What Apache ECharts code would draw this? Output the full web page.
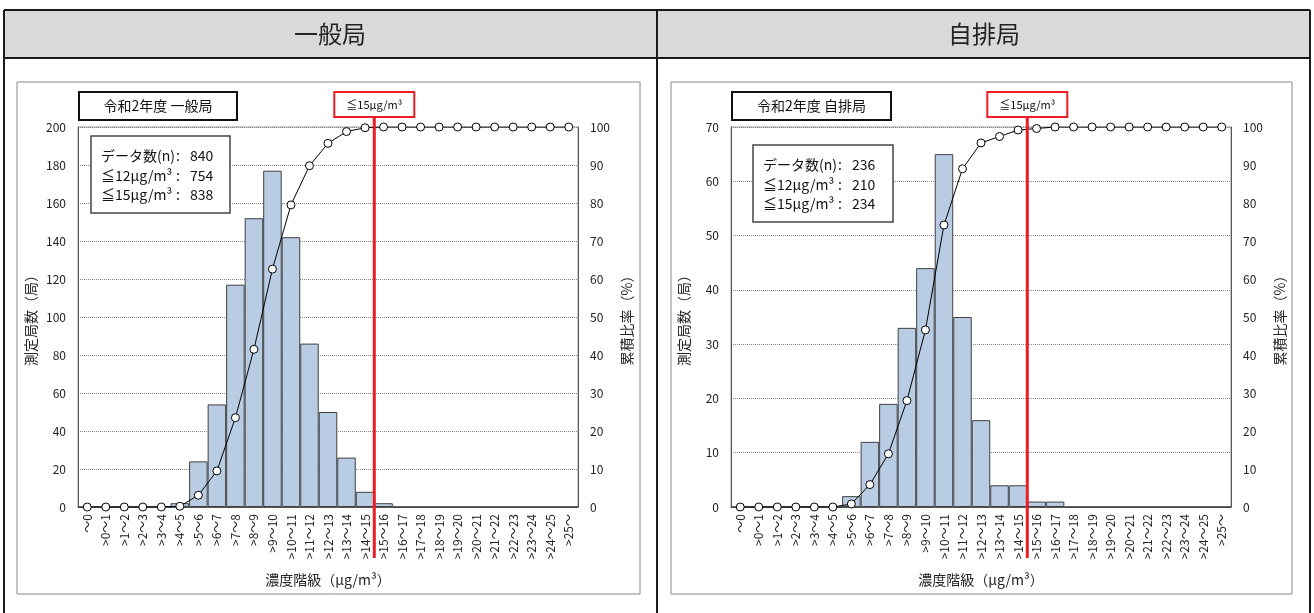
<!DOCTYPE html>
<html>
<head>
<meta charset="utf-8">
<script src="https://cdn.jsdelivr.net/npm/echarts@6/dist/echarts.min.js"></script>
<style>
  html, body { margin: 0; padding: 0; background: #fff; }
  #main { width: 1314px; height: 613px; }
</style>
</head>
<body>
<div id="main"></div>
<script>
// 濃度階級
const categories = ['～0', '>0～1', '>1～2', '>2～3', '>3～4', '>4～5', '>5～6', '>6～7', '>7～8', '>8～9',
  '>9～10', '>10～11', '>11～12', '>12～13', '>13～14', '>14～15', '>15～16', '>16～17', '>17～18',
  '>18～19', '>19～20', '>20～21', '>21～22', '>22～23', '>23～24', '>24～25', '>25～'];

// 一般局
const ippanCounts = [0, 0, 0, 0, 0, 2, 24, 54, 117, 152, 177, 142, 86, 50, 26, 8, 2, 0, 0, 0, 0, 0, 0, 0, 0, 0, 0];
const ippanCumPct = [0, 0, 0, 0, 0, 0.2, 3.1, 9.5, 23.5, 41.5, 62.6, 79.5, 89.8, 95.7, 98.8, 99.8, 100, 100, 100, 100, 100, 100, 100, 100, 100, 100, 100];
const ippanStats = [['データ数(n)', '840'], ['≦12μg/m³', '754'], ['≦15μg/m³', '838']];

// 自排局
const jihaiCounts = [0, 0, 0, 0, 0, 0, 2, 12, 19, 33, 44, 65, 35, 16, 4, 4, 1, 1, 0, 0, 0, 0, 0, 0, 0, 0, 0];
const jihaiCumPct = [0, 0, 0, 0, 0, 0, 0.8, 5.9, 14.0, 28.0, 46.6, 74.2, 89.0, 95.8, 97.5, 99.2, 99.6, 100, 100, 100, 100, 100, 100, 100, 100, 100, 100];
const jihaiStats = [['データ数(n)', '236'], ['≦12μg/m³', '210'], ['≦15μg/m³', '234']];

const countAxisMax = [200, 70];
const countAxisStep = [20, 10];
const pctAxisMax = 100;
const pctAxisStep = 10;
const limitIndex = 15; // 線は >14～15 と >15～16 の境目

const FONT = '"Noto Sans CJK JP", "Noto Sans", sans-serif';
const chart = echarts.init(document.getElementById('main'));

const gridLefts = [78, 731];
const grids = gridLefts.map(l => ({
  left: l, top: 127, width: 500, height: 380,
  show: true, borderColor: '#999', borderWidth: 1
}));

const xAxes = [0, 1].map(i => ({
  type: 'category', gridIndex: i, data: categories,
  name: '濃度階級（μg/m³）', nameLocation: 'middle', nameGap: 66,
  nameTextStyle: { fontSize: 14, color: '#222', fontFamily: FONT },
  axisLine: { lineStyle: { color: '#555' } },
  axisTick: { show: false },
  axisLabel: { rotate: 90, interval: 0, fontSize: 12, color: '#222', margin: 7, fontFamily: FONT }
}));

const yAxes = [];
[0, 1].forEach(i => {
  yAxes.push({
    type: 'value', gridIndex: i, position: 'left',
    min: 0, max: countAxisMax[i], interval: countAxisStep[i],
    name: '測定局数（局）', nameLocation: 'middle', nameGap: 40, nameRotate: 90,
    nameTextStyle: { fontSize: 14, color: '#222', fontFamily: FONT },
    axisLine: { show: true, lineStyle: { color: '#555' } },
    axisTick: { show: false },
    axisLabel: { fontSize: 12, color: '#222', margin: 12, fontFamily: FONT },
    splitLine: { lineStyle: { type: 'dotted', color: '#888' } }
  });
  yAxes.push({
    type: 'value', gridIndex: i, position: 'right',
    min: 0, max: pctAxisMax, interval: pctAxisStep,
    name: '累積比率（%）', nameLocation: 'middle', nameGap: 42, nameRotate: 90,
    nameTextStyle: { fontSize: 14, color: '#222', fontFamily: FONT },
    axisLine: { show: true, lineStyle: { color: '#555' } },
    axisTick: { show: false },
    axisLabel: { fontSize: 12, color: '#222', margin: 12, fontFamily: FONT },
    splitLine: { show: false }
  });
});

const counts = [ippanCounts, jihaiCounts];
const cum = [ippanCumPct, jihaiCumPct];
const series = [];
[0, 1].forEach(i => {
  series.push({
    type: 'bar', xAxisIndex: i, yAxisIndex: 2 * i, data: counts[i],
    barWidth: '100%',
    itemStyle: { color: '#b8cce4', borderColor: '#404040', borderWidth: 1 },
    z: 2
  });
  series.push({
    type: 'line', xAxisIndex: i, yAxisIndex: 2 * i + 1, data: cum[i],
    symbol: 'circle', symbolSize: 8,
    lineStyle: { color: '#000', width: 1 },
    itemStyle: { color: '#fff', borderColor: '#000', borderWidth: 1 },
    z: 3
  });
});

chart.setOption({
  animation: false,
  textStyle: { fontFamily: FONT },
  grid: grids, xAxis: xAxes, yAxis: yAxes, series: series
});

// 枠・注記
const g = [];
// 表の見出し
g.push({ type: 'rect', shape: { x: 4, y: 10, width: 653, height: 48 }, style: { fill: '#d9d9d9' }, z: -1 });
g.push({ type: 'rect', shape: { x: 657, y: 10, width: 653, height: 48 }, style: { fill: '#d9d9d9' }, z: -1 });
[[4, 10, 1310, 10], [4, 58, 1310, 58], [4, 10, 4, 613], [657, 10, 657, 613], [1310, 10, 1310, 613]].forEach(l => {
  g.push({ type: 'line', shape: { x1: l[0], y1: l[1], x2: l[2], y2: l[3] }, style: { stroke: '#1a1a1a', lineWidth: 2 } });
});
g.push({ type: 'text', x: 330, y: 34, style: { text: '一般局', font: '24px ' + FONT, fill: '#222', align: 'center', verticalAlign: 'middle' } });
g.push({ type: 'text', x: 984, y: 34, style: { text: '自排局', font: '24px ' + FONT, fill: '#222', align: 'center', verticalAlign: 'middle' } });

// グラフ枠
g.push({ type: 'rect', shape: { x: 17, y: 82, width: 623, height: 512 }, style: { fill: 'none', stroke: '#888', lineWidth: 1 } });
g.push({ type: 'rect', shape: { x: 671, y: 82, width: 621, height: 512 }, style: { fill: 'none', stroke: '#888', lineWidth: 1 } });

const titles = ['令和2年度 一般局', '令和2年度 自排局'];
const titleBox = [[79, 92, 158, 28], [732, 92, 159, 28]];
const statsBox = [[91, 136, 139, 77], [753, 145, 140, 77]];
const stats = [ippanStats, jihaiStats];

[0, 1].forEach(i => {
  const tb = titleBox[i];
  g.push({ type: 'rect', shape: { x: tb[0], y: tb[1], width: tb[2], height: tb[3] }, style: { fill: '#fff', stroke: '#111', lineWidth: 2 }, z: 10 });
  g.push({ type: 'text', x: tb[0] + tb[2] / 2, y: tb[1] + tb[3] / 2, style: { text: titles[i], font: '14px ' + FONT, fill: '#111', align: 'center', verticalAlign: 'middle' }, z: 11 });

  const sb = statsBox[i];
  g.push({ type: 'rect', shape: { x: sb[0], y: sb[1], width: sb[2], height: sb[3] }, style: { fill: '#fff', stroke: '#444', lineWidth: 1.5 }, z: 10 });
  stats[i].forEach((row, k) => {
    const ty = sb[1] + 20 + k * 19.5;
    g.push({ type: 'text', x: sb[0] + 10, y: ty, style: { text: row[0], font: '14px ' + FONT, fill: '#111', verticalAlign: 'middle' }, z: 11 });
    g.push({ type: 'text', x: sb[0] + 85, y: ty, style: { text: ':', font: '14px ' + FONT, fill: '#111', verticalAlign: 'middle' }, z: 11 });
    g.push({ type: 'text', x: sb[0] + 99, y: ty, style: { text: row[1], font: '14px ' + FONT, fill: '#111', verticalAlign: 'middle' }, z: 11 });
  });

  // 15μg/m³ の基準線
  const xa = chart.convertToPixel({ xAxisIndex: i }, limitIndex);
  const xb = chart.convertToPixel({ xAxisIndex: i }, limitIndex + 1);
  const xm = (xa + xb) / 2;
  g.push({ type: 'line', shape: { x1: xm, y1: 116, x2: xm, y2: 558 }, style: { stroke: '#ee1c25', lineWidth: 3 }, z: 20 });
  g.push({ type: 'rect', shape: { x: xm - 40, y: 92, width: 80, height: 25 }, style: { fill: '#fff', stroke: '#ee1c25', lineWidth: 2 }, z: 20 });
  g.push({ type: 'text', x: xm, y: 104.5, style: { text: '≦15μg/m³', font: '11px ' + FONT, fill: '#111', align: 'center', verticalAlign: 'middle' }, z: 21 });
});

chart.setOption({ graphic: g });
</script>
</body>
</html>
